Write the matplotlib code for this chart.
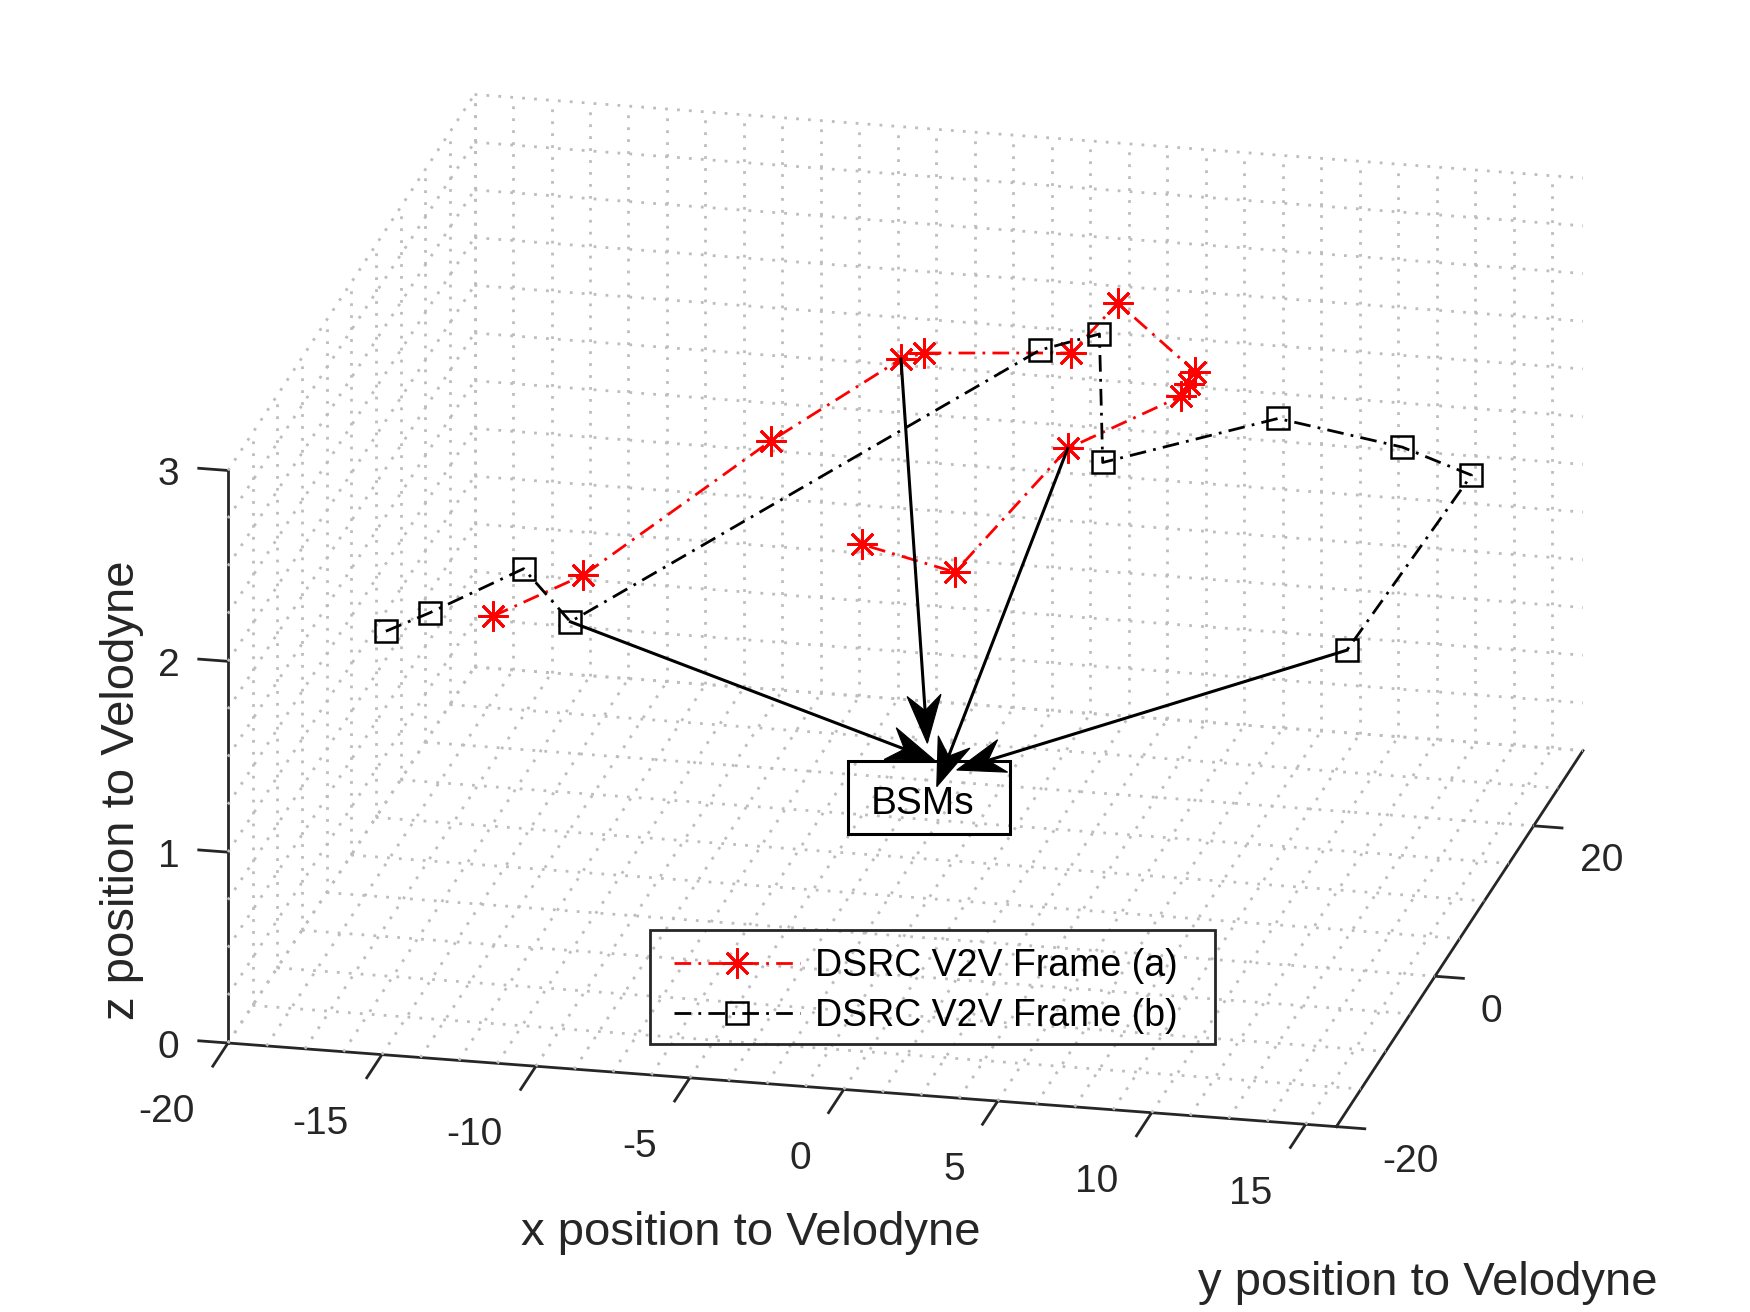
import warnings
import numpy as np
import matplotlib
matplotlib.use("Agg")
import matplotlib.pyplot as plt
from mpl_toolkits.mplot3d import proj3d
from matplotlib.patches import Rectangle, Polygon
from matplotlib.lines import Line2D
from matplotlib.transforms import ScaledTranslation

warnings.filterwarnings("ignore")
plt.rcParams['font.family'] = ['Liberation Sans', 'DejaVu Sans']
plt.rcParams['axes.unicode_minus'] = False

# ---------------- data ----------------
frame_a_x = [-13.11, -10.75, -6.51, -3.37, -2.77, 1.78, 2.98, 6.38, 6.44, 6.43, 2.83, 0.30, -3.15]
frame_a_y = [-9.34, -5.69, 5.86, 12.64, 13.63, 15.04, 16.99, 11.43, 9.80, 8.16, 7.74, 0.67, 3.30]
frame_a_z = [1.9, 2.0, 2.3, 2.5, 2.5, 2.5, 2.7, 2.6, 2.6, 2.6, 2.3, 1.9, 1.9]

frame_b_x = [-16.50, -15.13, -12.73, -10.98, 0.75, 2.65, 3.81, 9.12, 13.16, 15.48, 13.24]
frame_b_y = [-9.84, -9.51, -5.44, -6.88, 15.12, 15.30, 8.72, 11.14, 11.11, 10.64, -0.64]
frame_b_z = [1.8, 1.9, 2.0, 1.8, 2.5, 2.6, 2.2, 2.4, 2.3, 2.2, 1.7]

label_a = 'DSRC V2V Frame (a)'
label_b = 'DSRC V2V Frame (b)'

x_limits = [-20, 16]
y_limits = [-20, 30]
z_limits = [0, 3]
x_ticks = [-20, -15, -10, -5, 0, 5, 10, 15]
y_ticks = [-20, 0, 20]
z_ticks = [0, 1, 2, 3]
x_grid_step, y_grid_step, z_grid_step = 1.25, 5, 0.25

x_label = 'x position to Velodyne'
y_label = 'y position to Velodyne'
z_label = 'z position to Velodyne'

annotation_text = 'BSMs'
# arrows: from a data point (series, index) to a tip near the BSMs box (figure fraction)
arrow_sources = [('b', 3), ('a', 3), ('a', 10), ('b', 10)]
arrow_tips = [(0.5343, 0.4202), (0.5299, 0.4335), (0.5353, 0.4004), (0.5467, 0.4131)]

# ---------------- figure ----------------
W, H = 1750, 1312
DPI = 200
fig = plt.figure(figsize=(W / DPI, H / DPI), dpi=DPI)
ax = fig.add_axes([-0.1, -0.15, 1.2, 1.3], projection='3d')
ax.set_proj_type('ortho')
ax.view_init(elev=19.83, azim=-77.46)
aspect = (1.0, 1.0, 0.536)
ax.set_box_aspect(aspect)
ax.computed_zorder = False
ax.set_xlim(*x_limits)
ax.set_ylim(*y_limits)
ax.set_zlim(*z_limits)

axis_col = '#262626'
ax.grid(False)
for axis in (ax.xaxis, ax.yaxis, ax.zaxis):
    axis.set_pane_color((1, 1, 1, 0))
    axis.pane.set_edgecolor((1, 1, 1, 0))
    axis.line.set_color(axis_col)
    axis.line.set_linewidth(1.0)
    axis._axinfo['tick']['linewidth'] = {True: 1.0, False: 0.5}
    axis._axinfo['tick']['outward_factor'] = 0.0
    axis._axinfo['tick']['inward_factor'] = 0.0
ax.xaxis._axinfo['tick']['inward_factor'] = 0.77
ax.yaxis._axinfo['tick']['inward_factor'] = 0.32
ax.zaxis.set_ticks_position('lower')
ax.zaxis.set_label_position('lower')
ax.zaxis._get_tickdir = lambda *a, **k: 0
ax.zaxis._axinfo['tick']['outward_factor'] = 0.33

ax.set_xticks(x_ticks)
ax.set_yticks(y_ticks)
ax.set_zticks(z_ticks)
ax.tick_params(axis='x', labelsize=14, colors=axis_col, pad=14)
ax.tick_params(axis='y', labelsize=14, colors=axis_col, pad=10)
ax.tick_params(axis='z', labelsize=14, colors=axis_col, pad=6)


def style_ticklabels(axis, dx_px, dy_px, ha, va):
    orig = axis.get_major_ticks

    def patched(*args, **kwargs):
        ticks = orig(*args, **kwargs)
        for t in ticks:
            t.label1.set_transform(ax.transData + ScaledTranslation(dx_px / DPI, dy_px / DPI,
                                                                     fig.dpi_scale_trans))
            t.label1.set_ha(ha)
            t.label1.set_va(va)
        return ticks
    axis.get_major_ticks = patched


def shift_label(text, dx_px, dy_px):
    orig_draw = text.draw

    def draw(renderer):
        tr = text.get_transform()
        text.set_transform(tr + ScaledTranslation(dx_px / DPI, dy_px / DPI, fig.dpi_scale_trans))
        orig_draw(renderer)
        text.set_transform(tr)
    text.draw = draw


style_ticklabels(ax.xaxis, -16, -4, 'right', 'center')
style_ticklabels(ax.yaxis, -16.5, 1.5, 'left', 'center')
style_ticklabels(ax.zaxis, 0, 8, 'center', 'center')

ax.xaxis.set_rotate_label(False)
ax.zaxis.set_rotate_label(False)
ax.set_xlabel(x_label, fontsize=17, color=axis_col, labelpad=29, rotation=0)
ax.set_zlabel(z_label, fontsize=17, color=axis_col, labelpad=4, rotation=90)
shift_label(ax.xaxis.label, 7, 0)
shift_label(ax.zaxis.label, 0, -11)

# ---------------- dotted grid (major + minor) on the three back planes ----------------
gkw = dict(color='#bdbdbd', lw=1.0, linestyle=(0, (1, 3.3)), zorder=1)
gx = np.arange(x_limits[0], x_limits[1] + 1e-9, x_grid_step)
gy = np.arange(y_limits[0], y_limits[1] + 1e-9, y_grid_step)
gz = np.arange(z_limits[0], z_limits[1] + 1e-9, z_grid_step)
x0, x1 = x_limits
y0, y1 = y_limits
z0, z1 = z_limits
for xv in gx:
    ax.plot([xv, xv], [y0, y1], [z0, z0], **gkw)
    ax.plot([xv, xv], [y1, y1], [z0, z1], **gkw)
for yv in gy:
    if yv != y0:  # the front edges carry the solid x and z axis lines
        ax.plot([x0, x1], [yv, yv], [z0, z0], **gkw)
        ax.plot([x0, x0], [yv, yv], [z0, z1], **gkw)
for zv in gz:
    ax.plot([x0, x1], [y1, y1], [zv, zv], **gkw)
    ax.plot([x0, x0], [y0, y1], [zv, zv], **gkw)

# ---------------- data lines ----------------
dash_dot = (0, (6, 2.6, 1, 2.6))
la, = ax.plot(frame_a_x, frame_a_y, frame_a_z, color='red', lw=1.0, linestyle=dash_dot,
              marker=(8, 2, 0), ms=10.8, mew=1.0, zorder=4, label=label_a)
lb, = ax.plot(frame_b_x, frame_b_y, frame_b_z, color='black', lw=1.0, linestyle=dash_dot,
              marker='s', ms=7.8, mfc='none', mew=0.9, zorder=5, label=label_b)


# ---------------- calibrate placement of the box ----------------
def to_px(p):
    xs, ys, _ = proj3d.proj_transform(np.array([p[0]]), np.array([p[1]]), np.array([p[2]]),
                                      ax.get_proj())
    return np.asarray(ax.transData.transform(np.array([[xs[0], ys[0]]]))[0])


c_front = (x0, y0, z0)
c_right = (x1, y0, z0)
c_top = (x0, y1, z1)
t_front = np.array([228.0, H - 1043.0])
t_right = np.array([1338.3, H - 1126.7])
t_top = np.array([473.5, H - 97.0])

fig.canvas.draw()
d_target = np.linalg.norm(t_top - t_right)
d_now = np.linalg.norm(to_px(c_top) - to_px(c_right))
ax.set_box_aspect(aspect, zoom=d_target / d_now)
fig.canvas.draw()
off = t_front - to_px(c_front)
pos = ax.get_position(original=True)
ax.set_position([pos.x0 + off[0] / W, pos.y0 + off[1] / H, pos.width, pos.height])
fig.canvas.draw()

# ---------------- y label, legend, annotation ----------------
fig.text(1428 / W, 1 - 1283 / H, y_label, fontsize=17, color=axis_col, ha='center', va='center')

leg = fig.legend(handles=[la, lb], labels=[label_a, label_b], loc='upper left',
                 bbox_to_anchor=(659 / W, 1 - 933 / H),
                 fontsize=13.5, handlelength=3.35, handletextpad=0.4,
                 labelspacing=0.37, borderpad=0.4, borderaxespad=0, frameon=False,
                 numpoints=1)
fig.add_artist(Rectangle((650 / W, 1 - 1044 / H), (1215 - 650) / W, (1044 - 930) / H,
                         transform=fig.transFigure, fill=False, edgecolor=axis_col, lw=1.0,
                         zorder=3))

fig.add_artist(Rectangle((848.3 / W, 1 - 834 / H), (1010 - 848.3) / W, (834 - 761) / H,
                         transform=fig.transFigure, fill=False, edgecolor='black', lw=1.1))
fig.text(922.5 / W, 1 - 814 / H, annotation_text, fontsize=14, ha='center', va='baseline',
         color='black')

# arrows with swept-back heads
head_len, head_half, notch = 48.0, 17.0, 0.68
series = {'a': (frame_a_x, frame_a_y, frame_a_z), 'b': (frame_b_x, frame_b_y, frame_b_z)}
for (s, i), tip in zip(arrow_sources, arrow_tips):
    xs_, ys_, zs_ = series[s]
    start = to_px((xs_[i], ys_[i], zs_[i]))
    tip_px = np.array([tip[0] * W, tip[1] * H])
    d = tip_px - start
    d = d / np.linalg.norm(d)
    n = np.array([-d[1], d[0]])
    back = tip_px - head_len * d
    nb = tip_px - notch * head_len * d
    head = np.array([tip_px, back + head_half * n, nb, back - head_half * n]) / [W, H]
    fig.add_artist(Line2D([start[0] / W, nb[0] / W], [start[1] / H, nb[1] / H],
                          transform=fig.transFigure, color='black', lw=1.1))
    fig.add_artist(Polygon(head, closed=True, transform=fig.transFigure,
                           facecolor='black', edgecolor='black', lw=0.4))

fig.savefig('out.png', dpi=DPI)
